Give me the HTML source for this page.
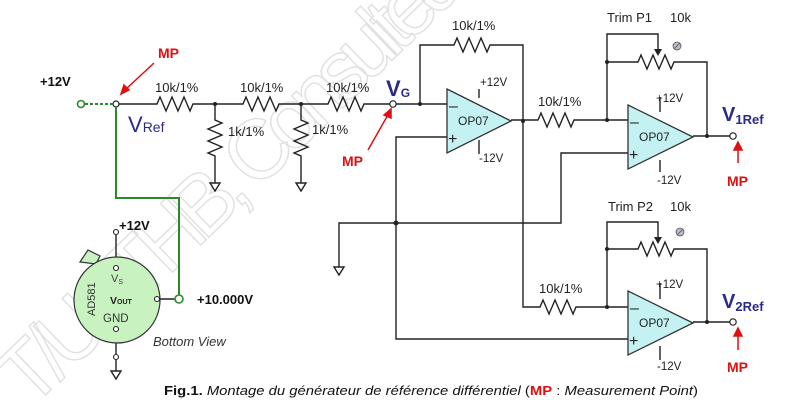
<!DOCTYPE html>
<html><head><meta charset="utf-8"><style>
html,body{margin:0;padding:0;background:#fff;}
svg{display:block;}
text{font-family:"Liberation Sans",Arial,sans-serif;}
</style></head><body>
<svg width="810" height="412" viewBox="0 0 810 412" xmlns="http://www.w3.org/2000/svg">
<!-- watermark -->
<g transform="translate(30,410) rotate(-44)">
<text x="0" y="0" font-size="84" fill="none" stroke="#e0e0e0" stroke-width="1.4" textLength="610">T/USTHB, Consulted</text>
</g>

<g stroke="#222" stroke-width="1.4" fill="none">
<path d="M116 104 H157 l3 -7 l6 14 l6 -14 l6 14 l6 -14 l6 14 l3 -7 H243 l3 -7 l6 14 l6 -14 l6 14 l6 -14 l6 14 l3 -7 H328 l3 -7 l6 14 l6 -14 l6 14 l6 -14 l6 14 l3 -7 H390"/>
<path d="M396 104 H447"/>
<path d="M215 104 V120 l7 3 l-14 6 l14 6 l-14 6 l14 6 l-14 6 l7 3 V183"/>
<path d="M301 104 V120 l7 3 l-14 6 l14 6 l-14 6 l14 6 l-14 6 l7 3 V183"/>
<path d="M210 183 h10 l-5 8 z M296 183 h10 l-5 8 z"/>
<path d="M420 104 V45 H454 l3 -7 l6 14 l6 -14 l6 14 l6 -14 l6 14 l3 -7 H523 V307 H540 l3 -7 l6 14 l6 -14 l6 14 l6 -14 l6 14 l3 -7 H628"/>
<path d="M511 120 H538 l3 -7 l6 14 l6 -14 l6 14 l6 -14 l6 14 l3 -7 H628"/>
<path d="M447 137 H396 V339 H628"/>
<path d="M339 267 V223 H561 V153 H628"/>
<path d="M334 267 h10 l-5 8 z"/>
<path d="M479 89 V98 M479 140 V154"/>
<path d="M607 120 V34 H658 V50"/>
<path d="M607 62 H638 l3 -7 l6 14 l6 -14 l6 14 l6 -14 l6 14 l3 -7 H707 V136"/>
<path d="M693 136 H730"/>
<path d="M660 97 V112 M660 160 V172"/>
<path d="M607 307 V222 H658 V238"/>
<path d="M607 249 H638 l3 -7 l6 14 l6 -14 l6 14 l6 -14 l6 14 l3 -7 H707 V322"/>
<path d="M693 322 H730"/>
<path d="M660 283 V299 M660 346 V360"/>
<path d="M116 235 V265 M116 332 V354 M116 360 V371 M160 299 H175"/>
<path d="M111 371 h10 l-5 8 z"/>
</g>
<path d="M654 49 L662 49 L658 56 Z M654 237 L662 237 L658 244 Z" fill="#222"/>

<g fill="#c4f2f2" stroke="#333" stroke-width="1.3">
<path d="M447 89 L511 121 L447 153 Z"/>
<path d="M628 105 L693 137 L628 169 Z"/>
<path d="M628 291 L693 323 L628 355 Z"/>
</g>
<g font-size="12" fill="#222">
<text x="458" y="125">OP07</text>
<text x="639" y="141">OP07</text>
<text x="639" y="327">OP07</text>
</g>
<g font-size="16" fill="#222">
<text x="449" y="111">–</text><text x="448" y="144">+</text>
<text x="630" y="127">–</text><text x="629" y="160">+</text>
<text x="630" y="313">–</text><text x="629" y="346">+</text>
</g>
<g font-size="11.5" fill="#222">
<text x="480" y="86">+12V</text><text x="479" y="162">-12V</text>
<text x="656" y="102">+12V</text><text x="657" y="184">-12V</text>
<text x="656" y="288">+12V</text><text x="657" y="370">-12V</text>
</g>

<g fill="#222">
<circle cx="215" cy="104" r="2"/><circle cx="301" cy="104" r="2"/>
<circle cx="420" cy="104" r="2"/><circle cx="523" cy="121" r="2"/>
<circle cx="607" cy="120" r="2"/><circle cx="607" cy="62" r="2"/>
<circle cx="707" cy="136" r="2"/><circle cx="396" cy="223" r="2.5"/>
<circle cx="607" cy="307" r="2"/><circle cx="607" cy="249" r="2"/>
<circle cx="707" cy="322" r="2"/>
</g>
<g fill="#fff" stroke="#222" stroke-width="1.2">
<circle cx="116" cy="104" r="3"/><circle cx="393" cy="104" r="3.2"/>
<circle cx="733" cy="136" r="3.2"/><circle cx="733" cy="322" r="3.2"/>
</g>
<g fill="#b8bec8" stroke="#555" stroke-width="0.8">
<circle cx="677" cy="46" r="4"/><circle cx="680" cy="232" r="4"/>
</g>
<path d="M674 49 L680 43 M677 235 L683 229" stroke="#555" stroke-width="0.8"/>

<g stroke="#2a8a2a" stroke-width="2" fill="none">
<path d="M85 104 H113" stroke-dasharray="3,2"/>
<path d="M116 107 V198 H179 V295"/>
</g>
<circle cx="81" cy="104" r="3.5" fill="#fff" stroke="#2a8a2a" stroke-width="1.6"/>
<circle cx="179" cy="299" r="4" fill="#fff" stroke="#2a8a2a" stroke-width="1.6"/>

<g fill="#c8f2c0" stroke="#333" stroke-width="1.2">
<path d="M80 262 L88 250 L100 256 L96 264 Z"/>
<circle cx="117" cy="300" r="43"/>
</g>
<g fill="#fff" stroke="#222" stroke-width="1.1">
<circle cx="116" cy="232" r="2.5"/><circle cx="116" cy="268" r="2.5"/>
<circle cx="116" cy="329" r="2.5"/><circle cx="116" cy="357" r="2.5"/>
<circle cx="157" cy="299" r="2.5"/>
</g>
<text x="111" y="282" font-size="11" fill="#444">V<tspan font-size="7" dy="2">S</tspan></text>
<text x="110" y="304" font-size="10.5" font-weight="bold" fill="#222">V<tspan font-size="7">OUT</tspan></text>
<text x="103" y="322" font-size="11.5" fill="#333">GND</text>
<text transform="translate(95,316) rotate(-90)" font-size="11" fill="#333">AD581</text>
<text x="119" y="230" font-size="13" font-weight="bold" fill="#111">+12V</text>
<text x="197" y="304" font-size="13" font-weight="bold" fill="#111">+10.000V</text>
<text x="153" y="346" font-size="13" font-style="italic" fill="#333">Bottom View</text>

<text x="40" y="86" font-size="13" font-weight="bold" fill="#111">+12V</text>
<g font-size="13" fill="#222">
<text x="155" y="92">10k/1%</text><text x="240" y="92">10k/1%</text><text x="326" y="92">10k/1%</text>
<text x="452" y="30">10k/1%</text><text x="538" y="106">10k/1%</text><text x="539" y="293">10k/1%</text>
<text x="228" y="136">1k/1%</text><text x="312" y="134">1k/1%</text>
<text x="607" y="22">Trim P1</text><text x="670" y="22">10k</text>
<text x="608" y="211">Trim P2</text><text x="670" y="211">10k</text>
</g>
<text x="128" y="132" font-size="22" fill="#2a2a8a">V<tspan font-size="14">Ref</tspan></text>
<text x="386" y="96" font-size="22" font-weight="bold" fill="#2a2a8a">V<tspan font-size="12" dy="1">G</tspan></text>
<text x="722" y="121" font-size="20" font-weight="bold" fill="#2a2a8a">V<tspan font-size="13" dy="3">1Ref</tspan></text>
<text x="722" y="308" font-size="20" font-weight="bold" fill="#2a2a8a">V<tspan font-size="13" dy="3">2Ref</tspan></text>

<g font-size="14" font-weight="bold" fill="#dd1111">
<text x="158" y="58">MP</text>
<text x="342" y="166">MP</text>
<text x="727" y="186">MP</text>
<text x="727" y="372">MP</text>
</g>
<g stroke="#dd1111" stroke-width="1.5" fill="#dd1111">
<path d="M154 63 L125 90" fill="none"/><path d="M121 94 L124 85 L129 90 Z"/>
<path d="M368 150 L389 113" fill="none"/><path d="M391 109 L384 115 L391 118 Z"/>
<path d="M738 163 V147" fill="none"/><path d="M738 142 L734 150 L742 150 Z"/>
<path d="M738 350 V333" fill="none"/><path d="M738 328 L734 336 L742 336 Z"/>
</g>

<text x="164" y="395" font-size="13" fill="#111" textLength="534" lengthAdjust="spacingAndGlyphs"><tspan font-weight="bold">Fig.1.</tspan><tspan font-style="italic"> Montage du générateur de référence différentiel </tspan>(<tspan fill="#dd1111" font-weight="bold">MP</tspan> : <tspan font-style="italic">Measurement Point</tspan>)</text>
</svg>
</body></html>
